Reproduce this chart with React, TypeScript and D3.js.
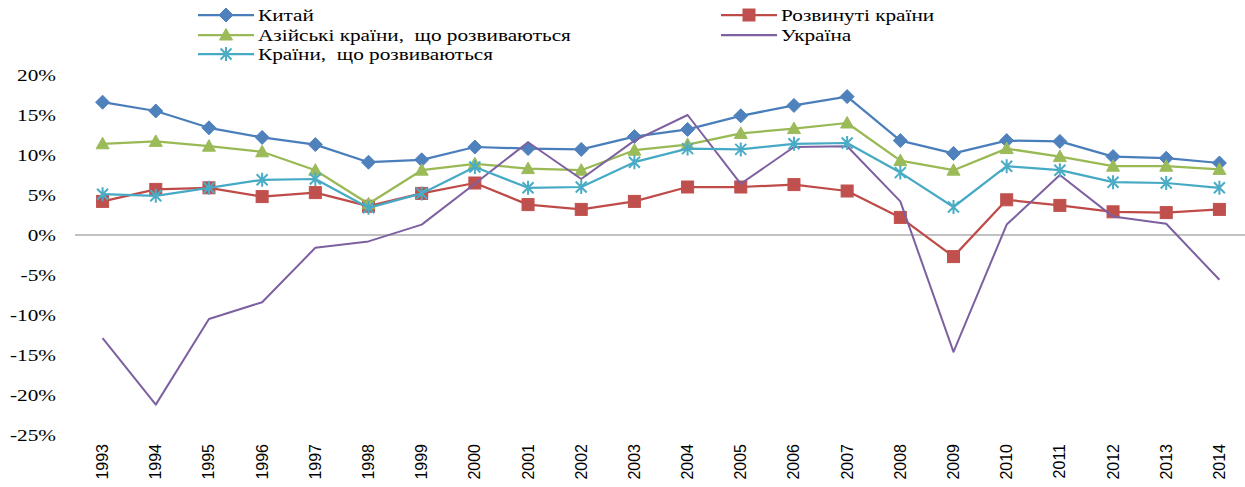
import React from 'react';
import * as d3 from 'd3';

const years = ['1993','1994','1995','1996','1997','1998','1999','2000','2001','2002','2003','2004','2005','2006','2007','2008','2009','2010','2011','2012','2013','2014'];
const china = [16.6, 15.5, 13.4, 12.2, 11.3, 9.1, 9.4, 11.0, 10.8, 10.7, 12.3, 13.2, 14.9, 16.2, 17.3, 11.8, 10.2, 11.8, 11.7, 9.8, 9.6, 9.0];
const developed = [4.2, 5.7, 5.9, 4.8, 5.3, 3.6, 5.2, 6.5, 3.8, 3.2, 4.2, 6.0, 6.0, 6.3, 5.5, 2.2, -2.7, 4.4, 3.7, 2.9, 2.8, 3.2];
const asian = [11.4, 11.7, 11.1, 10.4, 8.1, 3.9, 8.1, 8.9, 8.3, 8.1, 10.6, 11.3, 12.7, 13.3, 14.0, 9.3, 8.1, 10.8, 9.8, 8.6, 8.6, 8.2];
const ukraine = [-12.9, -21.2, -10.5, -8.4, -1.6, -0.8, 1.3, 6.4, 11.6, 7.0, 11.8, 15.0, 6.4, 11.0, 11.1, 4.2, -14.6, 1.3, 7.5, 2.3, 1.4, -5.6];
const developing = [5.1, 4.9, 5.9, 6.9, 7.0, 3.4, 5.2, 8.5, 5.9, 6.0, 9.1, 10.8, 10.7, 11.4, 11.5, 7.8, 3.5, 8.6, 8.1, 6.6, 6.5, 5.9];
const yTicks = [20, 15, 10, 5, 0, -5, -10, -15, -20, -25];

type Marker = 'diamond' | 'square' | 'triangle' | 'none' | 'star';
const series: { name: string; values: number[]; line: string; fill: string; marker: Marker }[] = [
  { name: 'Китай', values: china, line: '#4A7EBB', fill: '#4F81BD', marker: 'diamond' },
  { name: 'Розвинуті країни', values: developed, line: '#BE4B48', fill: '#C0504D', marker: 'square' },
  { name: 'Азійські країни,  що розвиваються', values: asian, line: '#98B954', fill: '#9BBB59', marker: 'triangle' },
  { name: 'Україна', values: ukraine, line: '#7D60A0', fill: '#8064A2', marker: 'none' },
  { name: 'Країни,  що розвиваються', values: developing, line: '#46AAC5', fill: '#4BACC6', marker: 'star' },
];

const SERIF = "'Times New Roman', 'Liberation Serif', 'DejaVu Serif', serif";
const SANS = "Arial, 'Liberation Sans', sans-serif";

function MarkerShape({ type, x, y, fill }: { type: Marker; x: number; y: number; fill: string }) {
  if (type === 'diamond') {
    return <path d={`M${x},${y - 7}L${x + 7},${y}L${x},${y + 7}L${x - 7},${y}Z`} fill={fill} stroke={fill} strokeWidth={1} />;
  }
  if (type === 'square') {
    return <rect x={x - 6} y={y - 6} width={12} height={12} fill={fill} stroke={fill} strokeWidth={1} />;
  }
  if (type === 'triangle') {
    return <path d={`M${x},${y - 6.5}L${x + 6.5},${y + 5}L${x - 6.5},${y + 5}Z`} fill={fill} stroke={fill} strokeWidth={1} />;
  }
  if (type === 'star') {
    return (
      <path
        d={`M${x - 5.5},${y - 5.5}L${x + 5.5},${y + 5.5}M${x - 5.5},${y + 5.5}L${x + 5.5},${y - 5.5}M${x},${y - 7}L${x},${y + 7}`}
        stroke={fill}
        strokeWidth={2}
        fill="none"
      />
    );
  }
  return null;
}

export default function App() {
  const width = 1245;
  const height = 487;
  const x = d3.scaleBand<string>().domain(years).range([76, 1246]).paddingInner(0).paddingOuter(0);
  const cx = (yr: string) => (x(yr) as number) + x.bandwidth() / 2;
  const y = d3.scaleLinear().domain([-25, 20]).range([435, 75]);
  const line = d3
    .line<number>()
    .x((_, i) => cx(years[i]))
    .y((d) => y(d));

  const legendPos = [
    { lx: 198, ty: 15 },
    { lx: 721, ty: 15 },
    { lx: 198, ty: 35 },
    { lx: 721, ty: 35 },
    { lx: 198, ty: 54 },
  ];

  return (
    <svg width={width} height={height} style={{ position: 'absolute', left: 0, top: 0, background: '#fff' }}>
      <rect x={0} y={0} width={width} height={height} fill="#fff" />
      {yTicks.map((t) => (
        <text
          key={t}
          transform={`translate(56,${y(t)}) scale(1.25,1)`}
          textAnchor="end"
          dominantBaseline="central"
          fontFamily={SERIF}
          fontSize={17}
          fill="#000"
        >
          {`${t}%`}
        </text>
      ))}
      <line x1={75} x2={1245} y1={y(0)} y2={y(0)} stroke="#868686" strokeWidth={1.2} />
      {years.map((yr) => (
        <text
          key={yr}
          transform={`translate(${cx(yr)},444) rotate(-90)`}
          textAnchor="end"
          dominantBaseline="central"
          fontFamily={SANS}
          fontSize={16}
          fill="#000"
        >
          {yr}
        </text>
      ))}
      {series.map((s) => (
        <g key={s.name}>
          <path d={line(s.values) || ''} fill="none" stroke={s.line} strokeWidth={s.marker === 'none' ? 2 : 2.25} strokeLinejoin="round" />
          {s.values.map((v, i) => (
            <MarkerShape key={i} type={s.marker} x={cx(years[i])} y={y(v)} fill={s.fill} />
          ))}
        </g>
      ))}
      {series.map((s, i) => {
        const p = legendPos[i];
        return (
          <g key={s.name}>
            <line x1={p.lx} x2={p.lx + 56} y1={p.ty} y2={p.ty} stroke={s.line} strokeWidth={2.25} />
            <MarkerShape type={s.marker} x={p.lx + 28} y={p.ty} fill={s.fill} />
            <text
              transform={`translate(${p.lx + 60},${p.ty}) scale(1.25,1)`}
              dominantBaseline="central"
              fontFamily={SERIF}
              fontSize={17}
              fill="#000"
              style={{ whiteSpace: 'pre' }}
            >
              {s.name}
            </text>
          </g>
        );
      })}
    </svg>
  );
}
